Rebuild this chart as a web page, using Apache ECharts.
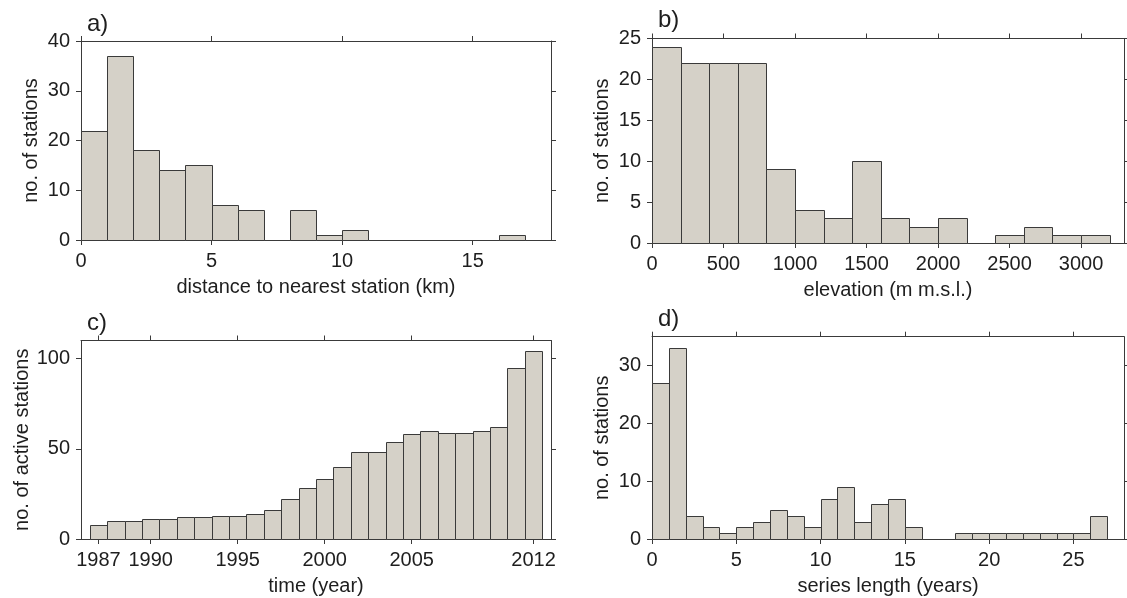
<!DOCTYPE html>
<html>
<head>
<meta charset="utf-8">
<script src="https://cdn.jsdelivr.net/npm/echarts@6/dist/echarts.min.js"></script>
<style>
  html, body { margin: 0; padding: 0; background: #fff; }
  #chart { width: 1127px; height: 598px; }
</style>
</head>
<body>
<div id="chart"></div>
<script>
// a) distance to nearest station, bins of 1 km starting at 0
const distCounts = [22, 37, 18, 14, 15, 7, 6, 0, 6, 1, 2, 0, 0, 0, 0, 0, 1];
const distTicks = [0, 5, 10, 15];
const distYTicks = [0, 10, 20, 30, 40];

// b) elevation, bins of 200 m starting at 0
const elevCounts = [24, 22, 22, 22, 9, 4, 3, 10, 3, 2, 3, 0, 1, 2, 1, 1];
const elevTicks = [0, 500, 1000, 1500, 2000, 2500, 3000];
const elevYTicks = [0, 5, 10, 15, 20, 25];

// c) active stations per year
const years = [1987, 1988, 1989, 1990, 1991, 1992, 1993, 1994, 1995, 1996, 1997, 1998, 1999,
  2000, 2001, 2002, 2003, 2004, 2005, 2006, 2007, 2008, 2009, 2010, 2011, 2012];
const activeCounts = [8, 10, 10, 11, 11, 12, 12, 13, 13, 14, 16, 22, 28,
  33, 40, 48, 48, 54, 58, 60, 59, 59, 60, 62, 95, 104];
const yearTicks = [1987, 1990, 1995, 2000, 2005, 2012];
const activeYTicks = [0, 50, 100];

// d) series length, bins of 1 year starting at 0
const lengthCounts = [27, 33, 4, 2, 1, 2, 3, 5, 4, 2, 7, 9, 3, 6, 7, 2, 0, 0, 1, 1, 1, 1, 1, 1, 1, 1, 4];
const lengthTicks = [0, 5, 10, 15, 20, 25];
const lengthYTicks = [0, 10, 20, 30];

const FONT = '"Liberation Sans", Arial, sans-serif';
const TXT = '#1e1e1e';
const LINE = '#3a3a3a';
const FILL = '#d5d1c8';

const bins = (counts, start, w) => counts.map((c, i) => [start + i * w, start + (i + 1) * w, c]);
const centered = (xs, counts) => xs.map((x, i) => [x - 0.5, x + 0.5, counts[i]]);
const plain = v => String(v);

const chart = echarts.init(document.getElementById('chart'), null, { renderer: 'canvas' });

const grids = [
  { left: 81, right: 576, top: 41, bottom: 358 },
  { left: 652, right: 3, top: 38.5, bottom: 355 },
  { left: 81, right: 576, top: 340.5, bottom: 59 },
  { left: 652, right: 3, top: 336.7, bottom: 59 }
];

const panels = [
  { label: 'a)', xName: 'distance to nearest station (km)', yName: 'no. of stations',
    xMin: 0, xMax: 18, xTicks: distTicks, yMax: 40, yTicks: distYTicks,
    data: bins(distCounts, 0, 1), yGap: 40 },
  { label: 'b)', xName: 'elevation (m m.s.l.)', yName: 'no. of stations',
    xMin: 0, xMax: 3300, xTicks: elevTicks, yMax: 25, yTicks: elevYTicks,
    data: bins(elevCounts, 0, 200), yGap: 40 },
  { label: 'c)', xName: 'time (year)', yName: 'no. of active stations',
    xMin: 1986, xMax: 2013, xTicks: yearTicks, yMax: 110, yTicks: activeYTicks,
    data: centered(years, activeCounts), yGap: 48 },
  { label: 'd)', xName: 'series length (years)', yName: 'no. of stations',
    xMin: 0, xMax: 28, xTicks: lengthTicks, yMax: 35, yTicks: lengthYTicks,
    data: bins(lengthCounts, 0, 1), yGap: 40 }
];

const xAxis = [], yAxis = [], series = [], title = [];

panels.forEach((p, i) => {
  const g = grids[i];
  const tick = { show: true, inside: false, length: 5, lineStyle: { color: LINE } };
  const axisLine = { show: true, onZero: false, lineStyle: { color: LINE, width: 1 } };
  xAxis.push({
    type: 'value', gridIndex: i, position: 'bottom', min: p.xMin, max: p.xMax,
    name: p.xName, nameLocation: 'middle', nameGap: 37,
    nameTextStyle: { fontFamily: FONT, fontSize: 20, color: TXT },
    axisLine, splitLine: { show: false },
    axisTick: Object.assign({ customValues: p.xTicks }, tick),
    axisLabel: { customValues: p.xTicks, formatter: plain, margin: 11, fontFamily: FONT, fontSize: 20, color: TXT }
  });
  xAxis.push({
    type: 'value', gridIndex: i, position: 'top', min: p.xMin, max: p.xMax,
    axisLine, splitLine: { show: false },
    axisTick: Object.assign({ customValues: p.xTicks }, tick),
    axisLabel: { show: false }
  });
  yAxis.push({
    type: 'value', gridIndex: i, position: 'left', min: 0, max: p.yMax,
    name: p.yName, nameLocation: 'middle', nameGap: p.yGap,
    nameTextStyle: { fontFamily: FONT, fontSize: 20, color: TXT },
    axisLine, splitLine: { show: false },
    axisTick: Object.assign({ customValues: p.yTicks }, tick),
    axisLabel: { customValues: p.yTicks, formatter: plain, margin: 11, fontFamily: FONT, fontSize: 20, color: TXT }
  });
  yAxis.push({
    type: 'value', gridIndex: i, position: 'right', min: 0, max: p.yMax,
    axisLine, splitLine: { show: false },
    axisTick: Object.assign({ customValues: p.yTicks }, tick),
    axisLabel: { show: false }
  });
  series.push({
    type: 'custom',
    xAxisIndex: i * 2,
    yAxisIndex: i * 2,
    data: p.data.filter(d => d[2] > 0),
    encode: { x: [0, 1], y: 2 },
    silent: true,
    renderItem: (params, api) => {
      const a = api.coord([api.value(0), api.value(2)]);
      const b = api.coord([api.value(1), 0]);
      const x0 = Math.round(a[0]) + 0.5, x1 = Math.round(b[0]) + 0.5;
      const y0 = Math.round(a[1]) + 0.5, y1 = Math.round(b[1]) + 0.5;
      return {
        type: 'rect',
        shape: { x: x0, y: y0, width: x1 - x0, height: y1 - y0 },
        style: { fill: FILL, stroke: LINE, lineWidth: 1 }
      };
    }
  });
  title.push({
    text: p.label,
    left: g.left + 1,
    top: [7, 3, 306, 302][i],
    textStyle: { fontFamily: FONT, fontSize: 24, fontWeight: 'normal', color: TXT }
  });
});

chart.setOption({
  animation: false,
  backgroundColor: '#fff',
  title,
  grid: grids,
  xAxis,
  yAxis,
  series
});
</script>
</body>
</html>
